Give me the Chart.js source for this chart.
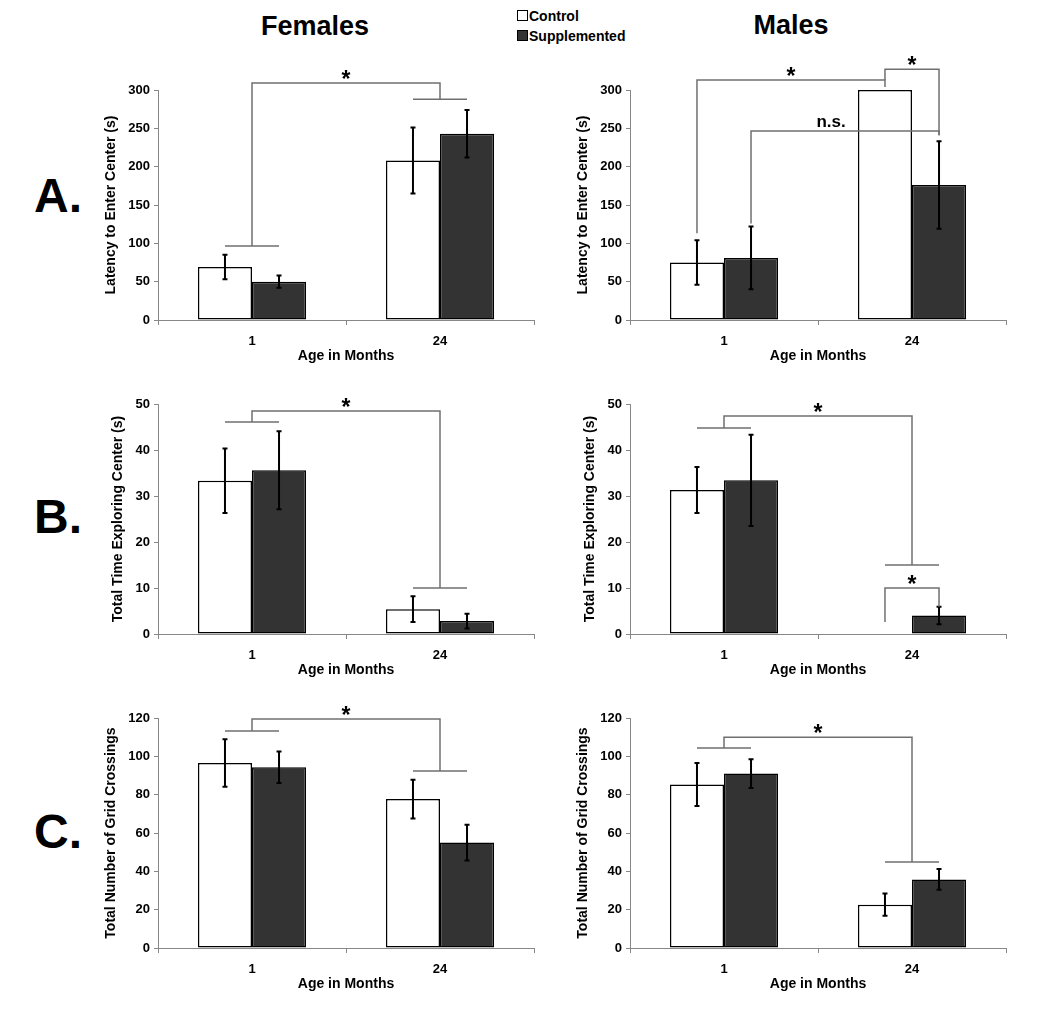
<!DOCTYPE html>
<html>
<head>
<meta charset="utf-8">
<script src="https://cdn.jsdelivr.net/npm/chart.js@4.4.1/dist/chart.umd.min.js"></script>
<style>
body { margin: 0; background: #fff; font-family: 'Liberation Sans', Arial, sans-serif; font-weight: bold; color: #000; }
#page { position: relative; width: 1050px; height: 1021px; overflow: hidden; }
.lbl { position: absolute; transform: translate(-50%, -50%); white-space: nowrap; }
.col { font-size: 27px; }
.row { font-size: 48px; }
.leg { position: absolute; font-size: 14px; line-height: 16px; white-space: nowrap; }
.box { display: inline-block; width: 9px; height: 9px; border: 1px solid #000; margin-right: 1px; vertical-align: 0px; }
canvas { position: absolute; }
</style>
</head>
<body>
<div id="page">
  <div class="lbl col" style="left:315px;top:26px">Females</div>
  <div class="lbl col" style="left:791px;top:25px">Males</div>
  <div class="leg" style="left:517px;top:8px"><span class="box" style="background:#fff"></span>Control</div>
  <div class="leg" style="left:517px;top:28px"><span class="box" style="background:#333"></span>Supplemented</div>
  <div class="lbl row" style="left:58px;top:195px">A.</div>
  <div class="lbl row" style="left:58px;top:516px">B.</div>
  <div class="lbl row" style="left:58px;top:831px">C.</div>

  <canvas id="femLat" width="438" height="325" style="left:100px;top:45px"></canvas>
  <canvas id="maleLat" width="438" height="325" style="left:572px;top:45px"></canvas>
  <canvas id="femTime" width="438" height="325" style="left:100px;top:359px"></canvas>
  <canvas id="maleTime" width="438" height="325" style="left:572px;top:359px"></canvas>
  <canvas id="femGrid" width="438" height="325" style="left:100px;top:673px"></canvas>
  <canvas id="maleGrid" width="438" height="325" style="left:572px;top:673px"></canvas>
</div>
<script>
const ages = ['1', '24'];

// A. latency to enter center (s)
const latencyTicks = [0, 50, 100, 150, 200, 250, 300];
const femLatCtrl = [69, 208];
const femLatCtrlErr = [16, 43];
const femLatSupp = [50, 243];
const femLatSuppErr = [8, 31];
const maleLatCtrl = [75, 300];
const maleLatCtrlErr = [29, 0];
const maleLatSupp = [81, 176];
const maleLatSuppErr = [41, 57];

// B. total time exploring center (s)
const timeTicks = [0, 10, 20, 30, 40, 50];
const femTimeCtrl = [33.3, 5.4];
const femTimeCtrlErr = [7.0, 2.8];
const femTimeSupp = [35.6, 2.8];
const femTimeSuppErr = [8.5, 1.6];
const maleTimeCtrl = [31.3, 0];
const maleTimeCtrlErr = [5.0, 0];
const maleTimeSupp = [33.4, 4.0];
const maleTimeSuppErr = [9.9, 1.9];

// C. total number of grid crossings
const gridTicks = [0, 20, 40, 60, 80, 100, 120];
const femGridCtrl = [96.5, 77.7];
const femGridCtrlErr = [12.4, 10.1];
const femGridSupp = [94.3, 55];
const femGridSuppErr = [8.2, 9.3];
const maleGridCtrl = [85.3, 22.6];
const maleGridCtrlErr = [11.2, 5.8];
const maleGridSupp = [91, 35.8];
const maleGridSuppErr = [7.5, 5.4];

// significance brackets, ends are [category, bar (0 ctrl, 1 supp, -1 group), value]
const femLatSig = [{ a: [0, -1, 96.5], b: [1, -1, 288], top: 309, text: '*' }];
const maleLatSig = [
    { a: [0, 0, 113], b: [1, 0, 304], top: 313, text: '*' },
    { a: [1, 0, 313], b: [1, 1, 241], top: 327, text: '*' },
    { a: [0, 1, 126], b: [1, 1, 241], top: 246.5, text: 'n.s.' }
];
const femTimeSig = [{ a: [0, -1, 46.1], b: [1, -1, 10], top: 48.5, text: '*' }];
const maleTimeSig = [
    { a: [0, -1, 44.8], b: [1, -1, 15], top: 47.4, text: '*' },
    { a: [1, 0, 2.6], b: [1, 1, 5.9], top: 10, text: '*' }
];
const femGridSig = [{ a: [0, -1, 113.2], b: [1, -1, 92.3], top: 119.5, text: '*' }];
const maleGridSig = [{ a: [0, -1, 104.3], b: [1, -1, 44.9], top: 110, text: '*' }];

const FONT = "'Liberation Sans', Arial, sans-serif";
Chart.defaults.font.family = FONT;
Chart.defaults.font.weight = 'bold';
Chart.defaults.color = '#000';

const errorBarPlugin = {
    id: 'errorBars',
    afterDatasetsDraw(chart) {
        const ctx = chart.ctx;
        const y = chart.scales.y;
        ctx.save();
        ctx.strokeStyle = '#000';
        ctx.lineWidth = 2;
        chart.data.datasets.forEach((ds, i) => {
            chart.getDatasetMeta(i).data.forEach((bar, j) => {
                const e = ds.errors[j];
                if (!e) return;
                const v = ds.data[j];
                const lo = y.getPixelForValue(v - e);
                const hi = y.getPixelForValue(v + e);
                ctx.beginPath();
                ctx.moveTo(bar.x, lo); ctx.lineTo(bar.x, hi);
                ctx.moveTo(bar.x - 2.5, lo); ctx.lineTo(bar.x + 2.5, lo);
                ctx.moveTo(bar.x - 2.5, hi); ctx.lineTo(bar.x + 2.5, hi);
                ctx.stroke();
            });
        });
        ctx.restore();
    }
};

const bracketPlugin = {
    id: 'brackets',
    afterDatasetsDraw(chart, args, opts) {
        const items = opts.items || [];
        const ctx = chart.ctx;
        const y = chart.scales.y;
        const barX = (cat, ds) => chart.getDatasetMeta(ds).data[cat].x;
        const endX = (cat, ds) => ds < 0 ? (barX(cat, 0) + barX(cat, 1)) / 2 : barX(cat, ds);
        ctx.save();
        ctx.strokeStyle = '#707070';
        ctx.lineWidth = 1.5;
        items.forEach(s => {
            const xa = endX(s.a[0], s.a[1]);
            const xb = endX(s.b[0], s.b[1]);
            const ya = y.getPixelForValue(s.a[2]);
            const yb = y.getPixelForValue(s.b[2]);
            const yt = y.getPixelForValue(s.top);
            ctx.beginPath();
            ctx.moveTo(xa, ya); ctx.lineTo(xa, yt); ctx.lineTo(xb, yt); ctx.lineTo(xb, yb);
            [s.a, s.b].forEach(end => {
                if (end[1] < 0) {
                    const py = y.getPixelForValue(end[2]);
                    ctx.moveTo(barX(end[0], 0), py);
                    ctx.lineTo(barX(end[0], 1), py);
                }
            });
            ctx.stroke();
            ctx.fillStyle = '#000';
            ctx.textAlign = 'center';
            ctx.textBaseline = 'alphabetic';
            if (s.text === '*') {
                ctx.font = 'bold 23px ' + FONT;
                ctx.fillText(s.text, (xa + xb) / 2, yt + 4);
            } else {
                ctx.font = 'bold 17px ' + FONT;
                ctx.fillText(s.text, (xa + xb) / 2 - 14, yt - 4);
            }
        });
        ctx.restore();
    }
};

function makePanel(id, ctrl, ctrlErr, supp, suppErr, ticks, yTitle, sig, titlePad) {
    const canvas = document.getElementById(id);
    new Chart(canvas.getContext('2d'), {
        type: 'bar',
        data: {
            labels: ages,
            datasets: [{
                label: 'Control',
                data: ctrl,
                errors: ctrlErr,
                backgroundColor: '#ffffff',
                borderColor: '#000',
                borderWidth: 1.5,
                borderSkipped: false
            }, {
                label: 'Supplemented',
                data: supp,
                errors: suppErr,
                backgroundColor: '#333333',
                borderColor: '#000',
                borderWidth: 1.5,
                borderSkipped: false
            }]
        },
        options: {
            responsive: false,
            animation: false,
            layout: { padding: { top: 45, right: 4, left: 0, bottom: 0 } },
            datasets: { bar: { categoryPercentage: 0.575, barPercentage: 1 } },
            plugins: {
                legend: { display: false },
                tooltip: { enabled: false },
                brackets: { items: sig }
            },
            scales: {
                x: {
                    grid: { offset: true, drawOnChartArea: false, tickLength: 5, color: '#888' },
                    border: { color: '#888', width: 1 },
                    ticks: { padding: 9, color: '#000', font: { size: 13, weight: 'bold' } },
                    title: {
                        display: true, text: 'Age in Months', color: '#000',
                        font: { size: 14, weight: 'bold' }, padding: { top: 0, bottom: 5 }
                    },
                    afterFit: s => { s.height = 50; }
                },
                y: {
                    min: 0,
                    max: ticks[ticks.length - 1],
                    afterBuildTicks: s => { s.ticks = ticks.map(v => ({ value: v })); },
                    grid: { drawOnChartArea: false, tickLength: 4, color: '#888' },
                    border: { color: '#888', width: 1 },
                    ticks: { padding: 4, color: '#000', font: { size: 13, weight: 'bold' } },
                    title: {
                        display: true, text: yTitle, color: '#000',
                        font: { size: 14, weight: 'bold' }, padding: { top: titlePad, bottom: 0 }
                    },
                    afterFit: s => { s.width = 58; }
                }
            }
        },
        plugins: [errorBarPlugin, bracketPlugin]
    });
}

makePanel('femLat', femLatCtrl, femLatCtrlErr, femLatSupp, femLatSuppErr, latencyTicks, 'Latency to Enter Center (s)', femLatSig, 3);
makePanel('maleLat', maleLatCtrl, maleLatCtrlErr, maleLatSupp, maleLatSuppErr, latencyTicks, 'Latency to Enter Center (s)', maleLatSig, 3);
makePanel('femTime', femTimeCtrl, femTimeCtrlErr, femTimeSupp, femTimeSuppErr, timeTicks, 'Total Time Exploring Center (s)', femTimeSig, 10);
makePanel('maleTime', maleTimeCtrl, maleTimeCtrlErr, maleTimeSupp, maleTimeSuppErr, timeTicks, 'Total Time Exploring Center (s)', maleTimeSig, 10);
makePanel('femGrid', femGridCtrl, femGridCtrlErr, femGridSupp, femGridSuppErr, gridTicks, 'Total Number of Grid Crossings', femGridSig, 3);
makePanel('maleGrid', maleGridCtrl, maleGridCtrlErr, maleGridSupp, maleGridSuppErr, gridTicks, 'Total Number of Grid Crossings', maleGridSig, 3);
</script>
</body>
</html>
